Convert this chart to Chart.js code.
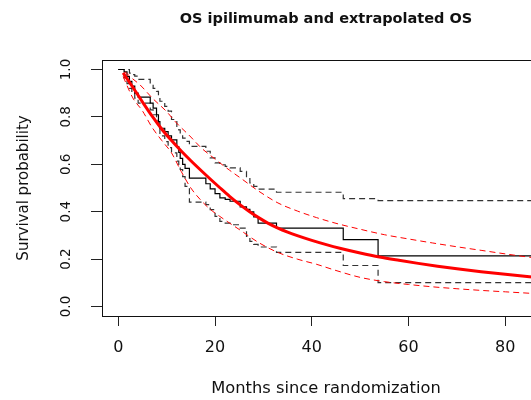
<!DOCTYPE html>
<html>
<head>
<meta charset="utf-8">
<script src="https://cdn.jsdelivr.net/npm/chart.js@4.4.0/dist/chart.umd.min.js"></script>
<style>
  html, body { margin: 0; padding: 0; background: #fff; overflow: hidden; }
  /* the original plot runs past the right edge of the picture, so the canvas is wider and clipped */
  #wrap { width: 531px; height: 400px; overflow: hidden; }
</style>
</head>
<body>
<div id="wrap"><canvas id="osChart" width="550" height="400"></canvas></div>
<script>
// Kaplan-Meier OS (ipilimumab): event months, estimate and 95% CI
const kmMonths = [0, 1.2, 1.8, 2.3, 2.8, 3.4, 4.1, 6.6, 7.2, 7.9, 8.3, 8.6, 9.6, 10.3, 11.0, 12.1, 12.5, 12.8, 13.3, 13.8, 14.7, 18.1, 19.0, 20.0, 21.0, 22.1, 23.1, 25.2, 26.5, 27.2, 28.0, 28.9, 32.7, 46.5, 53.7, 95];
const kmSurv   = [1.0, 0.99, 0.97, 0.95, 0.93, 0.90, 0.883, 0.858, 0.837, 0.809, 0.78, 0.752, 0.738, 0.72, 0.703, 0.675, 0.65, 0.625, 0.60, 0.583, 0.542, 0.518, 0.496, 0.476, 0.458, 0.452, 0.444, 0.42, 0.41, 0.399, 0.378, 0.352, 0.331, 0.282, 0.214, 0.214];
const kmUpper  = [1.0, 1.0, 1.0, 0.985, 0.978, 0.972, 0.958, 0.937, 0.92, 0.908, 0.885, 0.866, 0.844, 0.824, 0.789, 0.76, 0.745, 0.725, 0.71, 0.697, 0.676, 0.655, 0.627, 0.606, 0.598, 0.591, 0.585, 0.57, 0.545, 0.521, 0.507, 0.495, 0.482, 0.455, 0.447, 0.447];
const kmLower  = [1.0, 0.965, 0.94, 0.92, 0.90, 0.879, 0.858, 0.83, 0.809, 0.785, 0.76, 0.72, 0.696, 0.67, 0.648, 0.613, 0.595, 0.578, 0.548, 0.507, 0.44, 0.43, 0.409, 0.38, 0.359, 0.352, 0.345, 0.331, 0.296, 0.275, 0.262, 0.251, 0.228, 0.173, 0.101, 0.101];

// extrapolated parametric OS and its band
const fitMonths = [1, 3, 5, 7, 9, 11, 13, 15, 17, 19, 21, 23, 25, 27, 29, 31, 33, 35, 37, 40, 43, 46, 50, 54, 58, 62, 66, 70, 75, 80, 85, 90];
const fitSurv   = [0.986, 0.925, 0.863, 0.803, 0.748, 0.70, 0.656, 0.615, 0.576, 0.538, 0.501, 0.465, 0.432, 0.402, 0.375, 0.351, 0.331, 0.314, 0.299, 0.279, 0.261, 0.245, 0.226, 0.209, 0.195, 0.182, 0.17, 0.159, 0.147, 0.136, 0.126, 0.117];
const fitUpperMonths = [1.4, 3, 4.5, 7, 10, 12, 15, 17, 20, 23, 25, 29, 33, 37, 41, 45, 50, 55, 60, 65, 70, 75, 80, 85, 90];
const fitUpper       = [0.99, 0.96, 0.935, 0.88, 0.822, 0.775, 0.715, 0.672, 0.622, 0.575, 0.546, 0.487, 0.437, 0.403, 0.375, 0.351, 0.326, 0.303, 0.285, 0.268, 0.252, 0.237, 0.222, 0.208, 0.195];
const fitLowerMonths = [1, 3, 5, 7, 9, 11, 13, 15, 17, 19, 21, 23, 25, 29, 33, 37, 41, 45, 50, 55, 60, 65, 70, 75, 80, 85, 90];
const fitLower       = [0.97, 0.88, 0.825, 0.755, 0.70, 0.648, 0.57, 0.50, 0.45, 0.41, 0.38, 0.352, 0.325, 0.27, 0.228, 0.20, 0.178, 0.152, 0.123, 0.105, 0.093, 0.083, 0.075, 0.068, 0.062, 0.056, 0.05];

const xTicks = [0, 20, 40, 60, 80];
const yTicks = [0, 0.2, 0.4, 0.6, 0.8, 1.0];
const yTickLabels = ["0.0", "0.2", "0.4", "0.6", "0.8", "1.0"];

Chart.defaults.font.family = "'DejaVu Sans', sans-serif";
Chart.defaults.color = "#111";

function toPoints(xs, ys) {
  return xs.map((x, i) => ({ x, y: ys[i] }));
}

// box around the plot region, like R's bty="o"
const framePlugin = {
  id: "frame",
  afterDatasetsDraw(chart) {
    const { ctx, chartArea: a } = chart;
    ctx.save();
    ctx.strokeStyle = "#111";
    ctx.lineWidth = 1;
    ctx.strokeRect(Math.round(a.left) + 0.5, Math.round(a.top) + 0.5, a.right - a.left, Math.round(a.bottom - a.top));
    ctx.restore();
  }
};

// R draws the y tick labels parallel to the axis
const yTickLabelPlugin = {
  id: "yTickLabels",
  afterDraw(chart) {
    const { ctx } = chart;
    const y = chart.scales.y;
    ctx.save();
    ctx.font = "13.5px 'DejaVu Sans'";
    ctx.fillStyle = "#111";
    ctx.textAlign = "center";
    ctx.textBaseline = "middle";
    yTicks.forEach((v, i) => {
      ctx.save();
      ctx.translate(66, y.getPixelForValue(v));
      ctx.rotate(-Math.PI / 2);
      ctx.fillText(yTickLabels[i], 0, 0);
      ctx.restore();
    });
    ctx.restore();
  }
};

const dashed = [6, 4];

new Chart(document.getElementById("osChart"), {
  type: "line",
  data: {
    datasets: [
      { label: "Extrapolated OS", data: toPoints(fitMonths, fitSurv), borderColor: "#ff0000", borderWidth: 3, cubicInterpolationMode: "monotone" },
      { label: "Extrapolated upper", data: toPoints(fitUpperMonths, fitUpper), borderColor: "#ff0000", borderWidth: 1, borderDash: dashed, cubicInterpolationMode: "monotone" },
      { label: "Extrapolated lower", data: toPoints(fitLowerMonths, fitLower), borderColor: "#ff0000", borderWidth: 1, borderDash: dashed, cubicInterpolationMode: "monotone" },
      { label: "KM", data: toPoints(kmMonths, kmSurv), borderColor: "#000", borderWidth: 1.2, stepped: "before" },
      { label: "KM upper", data: toPoints(kmMonths, kmUpper), borderColor: "#333", borderWidth: 1.2, borderDash: dashed, stepped: "before" },
      { label: "KM lower", data: toPoints(kmMonths, kmLower), borderColor: "#333", borderWidth: 1.2, borderDash: dashed, stepped: "before" }
    ]
  },
  options: {
    responsive: false,
    animation: false,
    events: [],
    elements: { point: { radius: 0 }, line: { fill: false, tension: 0 } },
    layout: { padding: 0 },
    plugins: {
      legend: { display: false },
      tooltip: { enabled: false },
      title: {
        display: true,
        fullSize: false,
        text: "OS ipilimumab and extrapolated OS",
        color: "#111",
        font: { size: 14.5, weight: "bold" },
        padding: { top: 11, bottom: 31.6 }
      }
    },
    scales: {
      x: {
        type: "linear",
        min: -3.37,
        max: 89.24,
        afterBuildTicks: s => { s.ticks = xTicks.map(v => ({ value: v })); },
        afterFit: s => { s.height = 84; },
        border: { display: false },
        grid: { drawOnChartArea: false, tickLength: 10, color: "#222" },
        ticks: { padding: 12, maxRotation: 0, font: { size: 16 }, color: "#111" },
        title: { display: true, text: "Months since randomization", color: "#111", font: { size: 16.3 }, padding: { top: 0, bottom: 1.2 } }
      },
      y: {
        type: "linear",
        min: -0.04,
        max: 1.04,
        afterBuildTicks: s => { s.ticks = yTicks.map(v => ({ value: v })); },
        afterFit: s => { s.width = 102; },
        border: { display: false },
        grid: { drawOnChartArea: false, tickLength: 11, color: "#222" },
        ticks: { display: false },
        title: { display: true, text: "Survival probability", color: "#111", font: { size: 15 }, padding: { top: 15, bottom: 0 } }
      }
    }
  },
  plugins: [framePlugin, yTickLabelPlugin]
});
</script>
</body>
</html>
